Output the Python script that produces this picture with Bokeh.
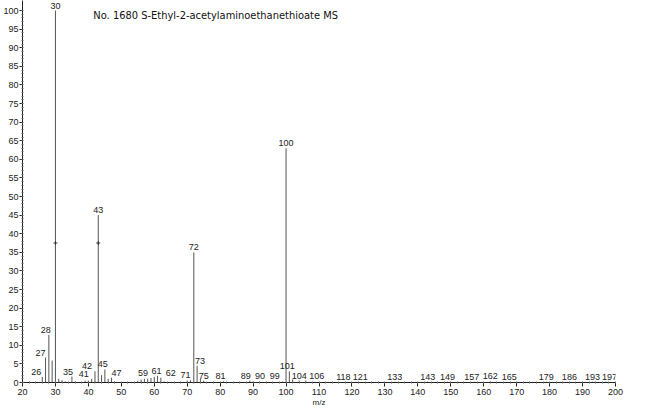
from bokeh.plotting import figure
from bokeh.models import ColumnDataSource, Label, FixedTicker
from bokeh.core.properties import value
from bokeh.embed import file_html
from bokeh.resources import INLINE

# ---- data ----
mz = [26, 27, 28, 29, 30, 31, 32, 33, 35, 36, 39, 40, 41, 42, 43, 44, 45, 46, 47, 48,
      55, 56, 57, 58, 59, 60, 61, 62, 63, 70, 71, 72, 73, 74, 75, 81, 89, 90, 99,
      100, 101, 102, 104, 106, 118, 121, 133, 143, 149, 157, 162, 165, 179, 186, 193, 197]
intensity = [1.5, 6.7, 12.8, 5.9, 100, 1.0, 0.6, 0.3, 1.6, 0.3, 0.5, 0.5, 1.0, 3.0, 45, 2.0, 3.5, 1.0, 1.3, 0.3,
             0.5, 0.8, 1.0, 1.0, 1.2, 1.5, 1.8, 1.3, 0.3, 0.5, 0.6, 35, 4.5, 1.0, 0.5, 0.3, 0.5, 0.3, 0.3,
             63, 3.0, 0.8, 0.5, 0.5, 0.2, 0.2, 0.2, 0.2, 0.2, 0.2, 0.3, 0.2, 0.2, 0.2, 0.2, 0.2]

labeled_mz = [26, 27, 28, 30, 35, 41, 42, 43, 45, 47, 59, 61, 62, 71, 72, 73, 75, 81, 89, 90, 99,
              100, 101, 104, 106, 118, 121, 133, 143, 149, 157, 162, 165, 179, 186, 193, 197]

title_text = "No. 1680 S-Ethyl-2-acetylaminoethanethioate MS"
x_label = "m/z"
x_ticks = list(range(20, 201, 10))
y_ticks = list(range(0, 101, 5))

# horizontal nudges (px) of peak labels, as placed in the reference
label_dx = {26: -6, 27: -5, 28: -3, 35: -4, 41: -8, 42: -8, 45: -2, 47: 5, 59: -8, 61: -1,
            62: 10, 71: -5, 73: 3, 81: -3, 89: -4, 90: 7, 99: -8, 101: -2, 106: 11,
            118: -2, 121: 5, 157: -2, 165: 9, 197: 4}

lookup = dict(zip(mz, intensity))
lab_x = labeled_mz
lab_y = [lookup[m] for m in labeled_mz]
lab_t = [str(m) for m in labeled_mz]
lab_dx = [label_dx.get(m, 0) for m in labeled_mz]

p = figure(width=650, height=410, output_backend="svg", toolbar_location=None,
           x_range=(20, 200), y_range=(0, 102.7),
           min_border_left=19, min_border_right=35, min_border_top=0, min_border_bottom=28)
p.outline_line_color = None
p.grid.visible = False
p.background_fill_color = "white"
p.border_fill_color = "white"

peaks = ColumnDataSource(dict(x=mz, top=intensity, bottom=[0] * len(mz)))
p.segment(x0="x", y0="bottom", x1="x", y1="top", source=peaks,
          line_color="#555555", line_width=1)

labels = ColumnDataSource(dict(x=lab_x, y=lab_y, t=lab_t, dx=lab_dx))
p.text(x="x", y="y", text="t", source=labels, x_offset="dx", y_offset=-2,
       text_align="center", text_baseline="bottom",
       text_font=value("Liberation Sans"), text_font_size="9px", text_color="#222222")

# small marks on the two tall peaks seen in the scan
p.scatter(x=[30, 43], y=[37.5, 37.5], marker="cross", size=4, line_color="#333333")

# axes
for ax in (p.xaxis[0], p.yaxis[0]):
    ax.axis_line_color = "#222222"
    ax.major_tick_line_color = "#222222"
    ax.minor_tick_line_color = "#666666"
    ax.major_label_text_font = "Liberation Sans"
    ax.major_label_text_font_size = "9px"
    ax.major_label_text_color = "#222222"
    ax.major_tick_in = 0
    ax.major_tick_out = 3
    ax.minor_tick_in = 1
    ax.minor_tick_out = 1
    ax.major_label_standoff = 1

p.xaxis[0].major_tick_out = 4
p.xaxis[0].major_label_standoff = 2
p.xaxis[0].ticker = FixedTicker(ticks=x_ticks, minor_ticks=list(range(20, 201, 2)))
p.yaxis[0].ticker = FixedTicker(ticks=y_ticks, minor_ticks=list(range(0, 101, 1)))
p.xaxis[0].axis_label = x_label
p.xaxis[0].axis_label_text_font = "Liberation Sans"
p.xaxis[0].axis_label_text_font_size = "8px"
p.xaxis[0].axis_label_text_font_style = "normal"
p.xaxis[0].axis_label_text_color = "#222222"
p.xaxis[0].axis_label_standoff = 0

p.add_layout(Label(x=41.5, y=98.8, text=title_text, text_baseline="middle",
                   text_font="'Liberation Sans Narrow', 'DejaVu Sans Condensed', sans-serif",
                   text_font_size="11px", text_color="#111111"))

open("out.html", "w").write(file_html(p, INLINE))
